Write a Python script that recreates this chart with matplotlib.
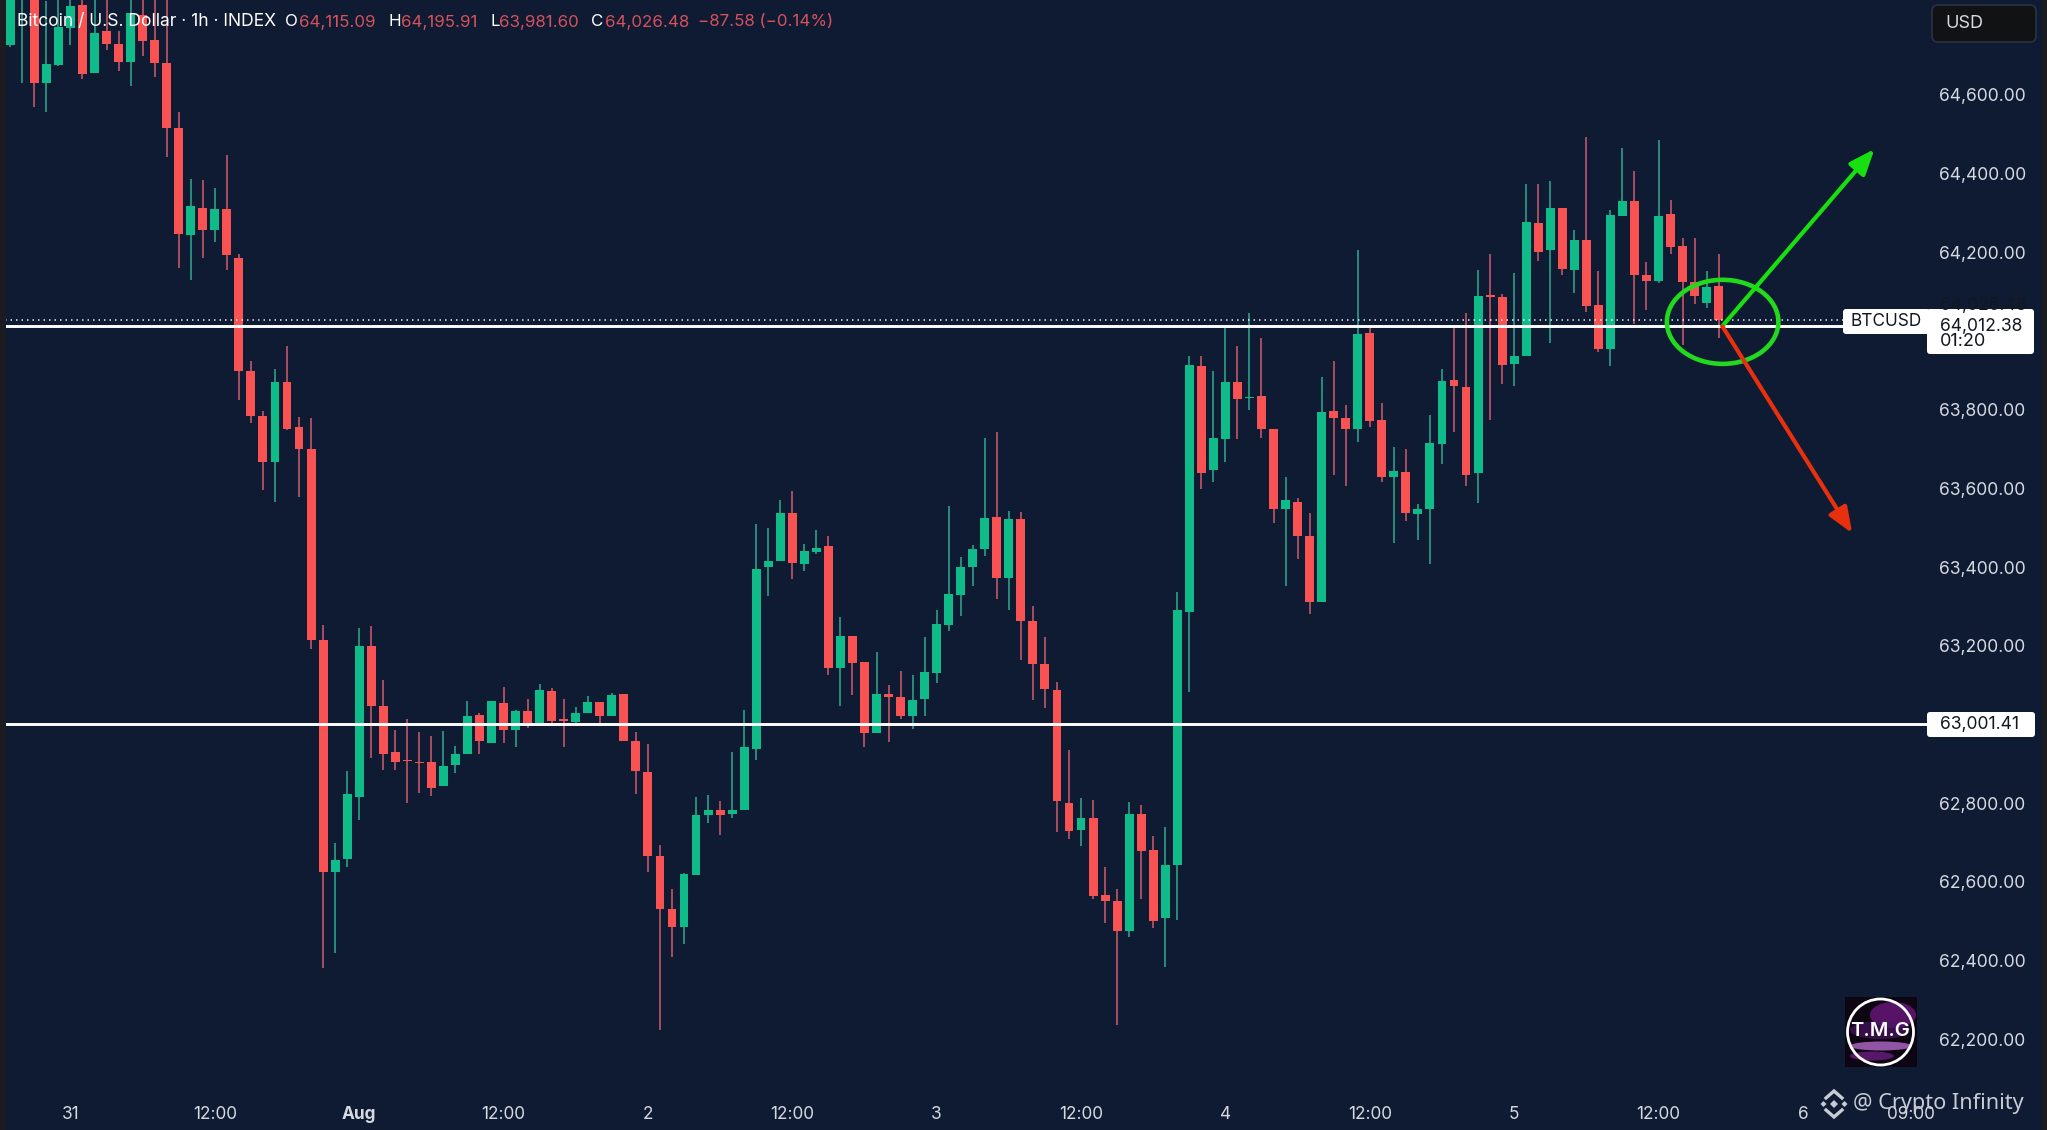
import matplotlib
matplotlib.use("Agg")
import matplotlib.pyplot as plt
from matplotlib.patches import Ellipse, Rectangle, FancyBboxPatch, Polygon, Circle

W, H = 2047, 1130
plt.rcParams['font.family'] = ['Inter', 'DejaVu Sans']

# hours from 31 Jul 00:00, one candle per hour, first candle at -5
first_hour = -5
opens = [
 64726,64860,64900,64629,64676,64769,64829,64656,64761,64730,
 64682,64803,64739,64681,64516,64243,64313,64256,64309,64186,
 63899,63783,63666,63871,63756,63699,63215,62625,62658,62817,
 63200,63048,62929,62911,62905,62904,62845,62896,62926,63023,
 62953,63054,62985,63035,63005,63084,63013,63007,63030,63056,
 63021,63077,62959,62880,62665,62531,62485,62618,62770,62782,
 62773,62783,62939,63400,63415,63538,63409,63439,63453,63143,
 63226,63158,62978,63078,63071,63021,63065,63132,63253,63329,
 63400,63447,63526,63371,63523,63262,63153,63087,62801,62731,
 62762,62568,62552,62475,62773,62682,62508,62642,63285,63910,
 63647,63726,63869,63830,63834,63752,63548,63565,63480,63312,
 63796,63779,63751,63995,63774,63628,63641,63536,63548,63713,
 63874,63857,63640,64092,64086,63917,63935,64275,64205,64313,
 64154,64231,64065,63954,64292,64331,64143,64128,64296,64215,
 64124,64071,64115.09]
highs = [
 64920,64950,64950,64838,64880,64870,64860,64850,64870,64762,
 64860,64870,64860,64860,64557,64386,64383,64364,64448,64196,
 63923,63796,63902,63961,63781,63778,63254,62700,62883,63246,
 63250,63114,62986,63015,62980,62971,62984,62946,63059,63030,
 63059,63094,63036,63066,63104,63092,63066,63045,63073,63056,
 63080,63077,62981,62950,62693,62583,62623,62817,62821,62805,
 62929,63036,63510,63500,63570,63593,63458,63493,63478,63273,
 63226,63158,63183,63101,63136,63127,63222,63291,63555,63425,
 63457,63728,63742,63543,63541,63301,63223,63107,62936,62813,
 62808,62638,62583,62803,62795,62716,62739,63336,63936,63935,
 63897,64013,63962,64045,63983,63752,63630,63576,63537,63882,
 63923,63813,64205,64010,63818,63705,63700,63559,63787,63903,
 64010,64046,64154,64196,64095,64146,64374,64374,64380,64313,
 64256,64492,64152,64308,64465,64406,64175,64485,64332,64237,
 64235,64152,64195.91]
lows = [
 64722,64630,64568,64557,64672,64726,64641,64654,64713,64661,
 64622,64698,64644,64443,64159,64130,64186,64227,64155,63825,
 63767,63595,63565,63747,63578,63191,62381,62420,62638,62757,
 62916,62885,62885,62801,62825,62818,62845,62878,62926,62924,
 62953,62953,62944,62992,63003,63001,62944,63003,63030,63004,
 63021,62959,62824,62624,62223,62410,62442,62618,62749,62720,
 62763,62783,62910,63327,63415,63369,63389,63432,63125,63046,
 63074,62942,62978,62956,63015,62988,63021,63106,63237,63275,
 63352,63429,63319,63290,63164,63061,63043,62726,62710,62691,
 62557,62495,62237,62461,62557,62482,62383,62504,63083,63599,
 63615,63668,63726,63800,63729,63513,63351,63420,63280,63312,
 63635,63607,63717,63755,63617,63460,63517,63469,63407,63663,
 63742,63607,63563,63773,63864,63859,63935,64178,63969,64141,
 64096,64048,63946,63911,64292,64018,64054,64122,64196,63963,
 64069,64059,63981.60]
closes = [
 64880,64900,64629,64678,64771,64826,64653,64756,64729,64682,
 64807,64737,64681,64516,64245,64317,64256,64309,64194,63899,
 63783,63666,63871,63750,63701,63215,62625,62656,62823,63200,
 63048,62924,62905,62907,62902,62838,62895,62924,63021,62957,
 63059,62985,63034,63003,63087,63009,63010,63030,63056,63021,
 63075,62959,62882,62665,62531,62485,62621,62771,62782,62771,
 62784,62942,63396,63415,63538,63410,63440,63449,63143,63226,
 63157,62978,63078,63071,63021,63063,63133,63255,63332,63400,
 63447,63525,63372,63523,63264,63154,63089,62805,62730,62762,
 62565,62552,62475,62773,62678,62501,62642,63290,63914,63639,
 63728,63870,63827,63833,63751,63548,63571,63478,63310,63795,
 63778,63751,63992,63772,63628,63643,63537,63548,63715,63873,
 63860,63633,64088,64085,63913,63936,64277,64201,64313,64157,
 64231,64063,63955,64294,64331,64142,64126,64291,64213,64123,
 64089,64112,64026.48]

y_ticks = [62200,62400,62600,62800,63200,63400,63600,63800,64200,64400,64600]
x_ticks = [0,12,24,36,48,60,72,84,96,108,120,132,144,153]
x_labels = ['31','12:00','Aug','12:00','2','12:00','3','12:00','4','12:00','5','12:00','6','09:00']
level_upper = 64012.38
level_lower = 63001.41
last_close = 64026.48

BG = '#0f1a33'
UP, DOWN = '#0fbb88', '#f95252'
UPW, DOWNW = '#2fa58c', '#c9596c'
TXT = '#d5d9e0'

fig = plt.figure(figsize=(W/100, H/100), dpi=100, facecolor=BG)
L, R, B = 5, 1928, 1097
ax = fig.add_axes([L/W, 1-B/H, (R-L)/W, B/H], facecolor=BG)
ax.set_xlim(-5.44, 154.4)
ax.set_ylim(62053.6, 64840.7)
for s in ax.spines.values():
    s.set_visible(False)

hours = [first_hour + i for i in range(len(opens))]
up = [c >= o for o, c in zip(opens, closes)]
ax.vlines(hours, lows, highs, colors=[UPW if u else DOWNW for u in up], lw=1.15, zorder=2)
ax.bar(hours, [abs(c-o) for o, c in zip(opens, closes)],
       bottom=[min(o, c) for o, c in zip(opens, closes)], width=0.74,
       color=[UP if u else DOWN for u in up], linewidth=0, zorder=3)

ax.axhline(level_upper, color='white', lw=2.1, zorder=4)
ax.axhline(level_lower, color='white', lw=2.1, zorder=4)
ax.axhline(last_close, color='white', lw=1.1, ls=(0, (1, 2.6)), alpha=.9, zorder=4)

ax.set_yticks(y_ticks)
ax.set_yticklabels([f'{v:,.2f}' for v in y_ticks])
ax.yaxis.tick_right()
ax.set_xticks(x_ticks)
ax.set_xticklabels(x_labels)
ax.tick_params(axis='y', length=0, pad=8, labelsize=12.6, labelcolor=TXT)
ax.tick_params(axis='x', length=0, pad=6.5, labelsize=12.4, labelcolor=TXT)
ax.get_xticklabels()[2].set_fontweight('bold')

# hand-drawn annotations
ax.add_patch(Ellipse((137.33, 64023), 9.27, 213.6, fill=False, ec='#22d91e', lw=3.3, zorder=6))
head_style = '-|>,head_length=0.55,head_width=0.22'
ax.annotate('', xy=(149.95, 64462), xytext=(137.3, 64012),
            arrowprops=dict(arrowstyle=head_style, color='#18e010', lw=3.0, mutation_scale=28,
                            shrinkA=0, shrinkB=0), zorder=7)
ax.annotate('', xy=(148.1, 63486), xytext=(137.3, 64012),
            arrowprops=dict(arrowstyle=head_style, color='#e8300f', lw=3.0, mutation_scale=28,
                            shrinkA=0, shrinkB=0), zorder=7)

# overlay in pixel coordinates for the chrome
ov = fig.add_axes([0, 0, 1, 1], facecolor='none')
ov.set_xlim(0, W)
ov.set_ylim(H, 0)
ov.axis('off')
ov.add_patch(Rectangle((0, 0), 6, H, fc='#1b1c1f', ec='none'))
ov.add_patch(Rectangle((2042, 0), 5, H, fc='#1b1c1f', ec='none'))

RED = '#d6525c'
head = [(17, 'Bitcoin / U.S. Dollar · 1h · INDEX', 'white', 12.6),
        (285, 'O', 'white', 12.2), (298.5, '64,115.09', RED, 12.2),
        (388, 'H', 'white', 12.2), (400.7, '64,195.91', RED, 12.2),
        (490, 'L', 'white', 12.2), (499.4, '63,981.60', RED, 12.2),
        (591, 'C', 'white', 12.2), (604.5, '64,026.48', RED, 12.2),
        (698, '−87.58 (−0.14%)', RED, 12.2)]
for x, s, c, fs in head:
    ov.text(x, 22, s, color=c, fontsize=fs, va='center', ha='left')

def box(x0, y0, x1, y1, fc, ec='none', r=3):
    p = FancyBboxPatch((x0+r, y0+r), x1-x0-2*r, y1-y0-2*r,
                       boxstyle=f'round,pad={r},rounding_size={r}', fc=fc, ec=ec, lw=1.2)
    ov.add_patch(p)
    return p

box(1932, 5, 2036, 42, '#111213', '#2b3342', 6)
ov.text(1945, 24, 'USD', color=TXT, fontsize=13, va='center', ha='left')

box(1843, 309, 1930, 334, 'white')
ov.text(1850, 321, 'BTCUSD', color='#131722', fontsize=12.4, va='center', ha='left')
bx = box(1927, 309, 2034, 354, 'white')
t1 = ov.text(1940, 305.5, '64,026.48', color='#131722', fontsize=12.6, va='center', ha='left')
t1.set_clip_on(True)
t1.set_clip_path(bx)
ov.text(1940, 341, '01:20', color='#131722', fontsize=13, va='center', ha='left')
ov.add_patch(Rectangle((1930, 313), 100, 27, fc='white', ec='none'))
ov.text(1940, 327, f'{level_upper:,.2f}', color='#131722', fontsize=12.6, va='center', ha='left')

box(1927, 712, 2035, 737, 'white')
ov.text(1940, 724, f'{level_lower:,.2f}', color='#131722', fontsize=12.6, va='center', ha='left')

# logo
ov.add_patch(Rectangle((1845, 997), 72, 70, fc='#0d0612', ec='none'))
ov.add_patch(Ellipse((1893, 1015), 46, 26, fc='#8a1fa0', ec='none', alpha=.6))
ov.add_patch(Ellipse((1880, 1030), 60, 18, fc='#4a1460', ec='none', alpha=.7))
ov.add_patch(Ellipse((1881, 1046), 62, 9, fc='#c070d8', ec='none', alpha=.75))
ov.add_patch(Ellipse((1872, 1056), 44, 9, fc='#7a1f90', ec='none', alpha=.7))
ov.add_patch(Circle((1880.5, 1032), 33, fc='none', ec='white', lw=2))
ov.text(1880.5, 1031, 'T.M.G', color='white', fontsize=14.5, va='center', ha='center', weight='semibold')

# watermark
WM = '#c6cbd4'
cx, cy = 1834, 1104
def diamond(x, y, r):
    ov.add_patch(Polygon([(x-r, y), (x, y-r), (x+r, y), (x, y+r)], closed=True, fc=WM, ec='none'))
diamond(cx, cy, 4)
diamond(cx-10.5, cy, 3)
diamond(cx+10.5, cy, 3)
ov.plot([cx-8, cx, cx+8], [cy-6, cy-13, cy-6], color=WM, lw=2.4, solid_joinstyle='miter')
ov.plot([cx-8, cx, cx+8], [cy+6, cy+13, cy+6], color=WM, lw=2.4, solid_joinstyle='miter')
ov.text(1853, 1104, '@ Crypto Infinity', color=WM, fontsize=15.6, va='center', ha='left',
        family=['Noto Sans', 'DejaVu Sans'])

fig.savefig('out.png', dpi=100, facecolor=BG)
